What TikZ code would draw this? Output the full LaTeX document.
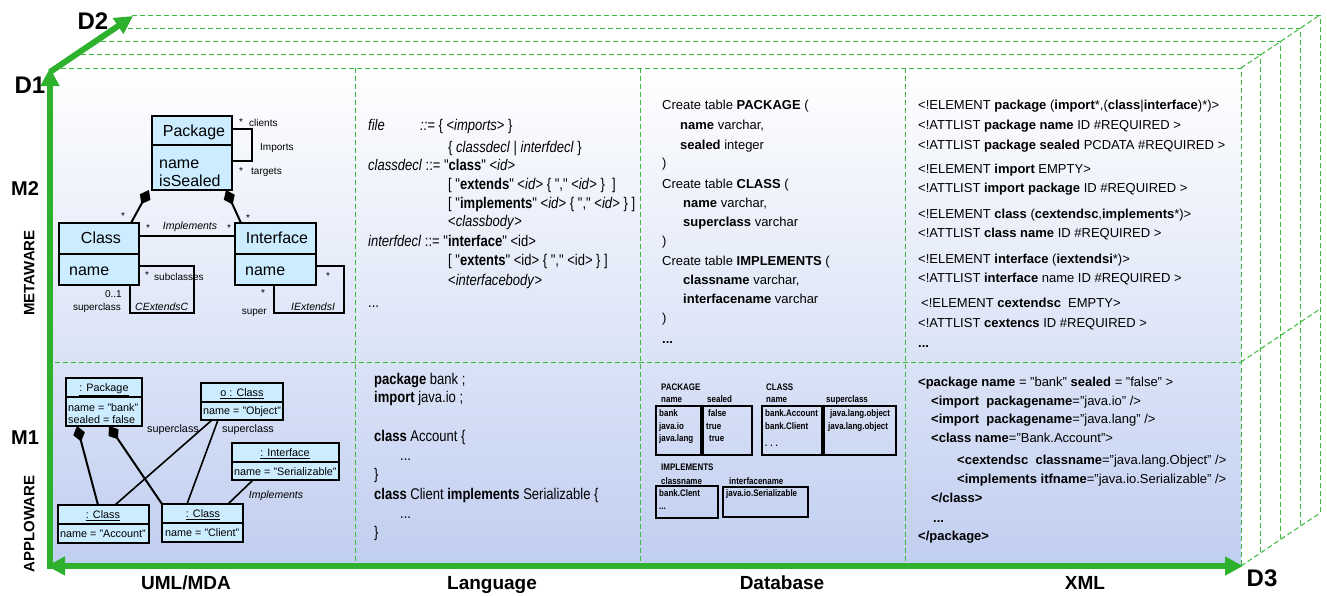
\documentclass[tikz,border=0pt]{standalone}
\usepackage{fontspec}
\setmainfont{Liberation Sans}
\newfontfamily\narrowsans[FakeStretch=0.84]{Liberation Sans}
\usetikzlibrary{arrows.meta}
\definecolor{axisgreen}{RGB}{46,178,46}
\definecolor{dashgreen}{RGB}{58,186,58}
\definecolor{umlblue}{RGB}{204,236,255}
\definecolor{bgblue}{RGB}{192,206,240}
\begin{document}
\begin{tikzpicture}[x=1pt,y=-1pt,
  axis/.style={draw=axisgreen, line width=6pt},
  grid/.style={draw=dashgreen, line width=1pt, dash pattern=on 5pt off 3pt},
  t/.style={anchor=west, inner sep=0pt, text depth=0pt},
  c/.style={anchor=center, inner sep=0pt, text depth=0pt},
  e/.style={anchor=east, inner sep=0pt, text depth=0pt},
  lang/.style={font=\narrowsans\fontsize{15.5}{17}\selectfont, text height=11.1pt},
  code/.style={font=\fontsize{13}{15}\selectfont, text height=9.3pt},
  tiny/.style={font=\narrowsans\bfseries\fontsize{9.5}{11}\selectfont, text height=6.8pt},
  uml/.style={font=\fontsize{16}{18}\selectfont, text height=11.5pt},
  umllab/.style={font=\fontsize{10}{12}\selectfont, text height=7.2pt},
  umlit/.style={font=\itshape\fontsize{10.5}{12}\selectfont, text height=7.5pt},
  obj/.style={font=\fontsize{10.8}{12}\selectfont, text height=7.7pt},
  umlbox/.style={draw=black, fill=umlblue, line width=1.1pt, inner sep=0pt, outer sep=0pt, anchor=north west},
  dbbox/.style={draw=black, line width=1.4pt, inner sep=0pt, outer sep=0pt, anchor=north west},
  assoc/.style={draw=black, line width=1.6pt},
  comp/.style={assoc, line width=2pt, -{Diamond[length=16pt,width=12pt]}},
  dlab/.style={c, font=\bfseries\fontsize{24}{26}\selectfont, text height=17.2pt},
  mlab/.style={c, font=\bfseries\fontsize{20}{22}\selectfont, text height=14.3pt},
  wlab/.style={c, font=\bfseries\fontsize{15}{17}\selectfont, text height=10.7pt, rotate=90},
  axlab/.style={c, font=\bfseries\fontsize{19}{21}\selectfont, text height=13.6pt}
]
\useasboundingbox (0,0) rectangle (1327,595);

% ---------- back layers ----------
\foreach \i in {1,...,4} {
  \draw[grid] ({53+19.75*\i},{68-13.25*\i}) -- ({1241+19.75*\i},{68-13.25*\i}) -- ({1241+19.75*\i},{566-13.25*\i});
}
\draw[grid] (1241,68) -- (1320,15);
\draw[grid] (1241,362) -- (1320,309);
\draw[grid] (1241,566) -- (1320,513);

% ---------- front face ----------
\shade[top color=white, bottom color=bgblue] (53,68) rectangle (1241,566);
\draw[grid] (53,68) -- (1241,68) -- (1241,566);
\draw[grid] (55,362) -- (1241,362);
\foreach \x in {355,640,905} \draw[grid] (\x,68) -- (\x,566);

% ---------- axes ----------
\draw[axis, -{Triangle[length=18pt,width=18pt]}] (50,569) -- (50,68);
\draw[axis, {Triangle[length=18pt,width=18pt]}-{Triangle[length=18pt,width=18pt]}] (47,566) -- (1243,566);
\draw[axis, -{Triangle[length=18pt,width=18pt]}] (50,72) -- (133,16);

\node[dlab] (D1) at (30,85) {D1};
\node[dlab] (D2) at (93,21) {D2};
\node[dlab] (D3) at (1262,578) {D3};
\node[mlab] (M2) at (25,188) {M2};
\node[mlab] (M1) at (25,437) {M1};
\node[wlab] (meta) at (29,273) {METAWARE};
\node[wlab] (applo) at (29,524) {APPLOWARE};
\node[axlab] (xuml) at (186,583) {UML/MDA};
\node[axlab] (xlang) at (492,583) {Language};
\node[axlab] (xdb) at (782,583) {Database};
\node[axlab] (xxml) at (1085,583) {XML};

% ---------- UML M2 ----------
\node[umlbox, minimum width=80, minimum height=74] (pkg) at (152,116) {};
\draw[line width=1.1pt] (pkg.west |- 0,145) -- (pkg.east |- 0,145);
\node[c, uml] (pkgT) at (194,131) {Package};
\node[t, uml] (pkgA1) at (159,163) {name};
\node[t, uml] (pkgA2) at (159,181) {isSealed};

\node[umlbox, minimum width=80, minimum height=62] (cls) at (59,223) {};
\draw[line width=1.1pt] (cls.west |- 0,254) -- (cls.east |- 0,254);
\node[c, uml] (clsT) at (101,238) {Class};
\node[t, uml] (clsA) at (69,270) {name};

\node[umlbox, minimum width=81, minimum height=62] (itf) at (235,223) {};
\draw[line width=1.1pt] (itf.west |- 0,254) -- (itf.east |- 0,254);
\node[c, uml] (itfT) at (277,238) {Interface};
\node[t, uml] (itfA) at (245,270) {name};

\draw[assoc] (pkg.east |- 0,129) -| (252,161) -- (pkg.east |- 0,161);
\node[c, umllab] (s1) at (241,122) {*};
\node[t, umllab] (clients) at (249,123) {clients};
\node[t, umllab] (imports) at (260,147) {Imports};
\node[c, umllab] (s2) at (241,171) {*};
\node[t, umllab] (targets) at (251,171) {targets};

\draw[comp] (cls.north -| 131,0) -- (pkg.south -| 149,0);
\draw[comp] (itf.north -| 241,0) -- (pkg.south -| 226,0);
\node[c, umllab] (s3) at (123,216) {*};
\node[c, umllab] (s4) at (248,218) {*};

\draw[assoc, line width=1.2pt] (cls.east |- 0,236) -- (itf.west |- 0,236);
\node[c, umllab] (s5) at (148,228) {*};
\node[c, umlit] (implT) at (190,226) {Implements};
\node[c, umllab] (s6) at (229,228) {*};

\draw[assoc] (cls.east |- 0,266) -| (194,313) -| (cls.south -| 130,0);
\node[c, umllab] (s7) at (147,275) {*};
\node[t, umllab] (subcl) at (154,277) {subclasses};
\node[e, umllab] (mult) at (122,294) {0..1};
\node[e, umllab] (supcl) at (121,307) {superclass};
\node[t, umlit] (cext) at (135,307) {CExtendsC};

\draw[assoc] (itf.east |- 0,266) -| (344,313) -| (itf.south -| 274,0);
\node[c, umllab] (s8) at (328,276) {*};
\node[c, umllab] (s9) at (263,293) {*};
\node[e, umllab] (super) at (267,311) {super};
\node[t, umlit] (iext) at (291,307) {IExtendsI};

% ---------- UML M1 ----------
\node[umlbox, minimum width=76, minimum height=48] (opkg) at (66,378) {};
\draw[line width=1.1pt] (opkg.west |- 0,397) -- (opkg.east |- 0,397);
\node[c, obj] (opkgT) at (104,388) {\underline{: Package}};
\node[t, obj] (opkgA1) at (68,408) {name = "bank"};
\node[t, obj] (opkgA2) at (68,420) {sealed = false};

\node[umlbox, minimum width=82, minimum height=37] (oobj) at (201,383) {};
\draw[line width=1.1pt] (oobj.west |- 0,402) -- (oobj.east |- 0,402);
\node[c, obj] (oobjT) at (242,393) {\underline{o : Class}};
\node[t, obj] (oobjA) at (203,411) {name = "Object"};

\node[umlbox, minimum width=107, minimum height=37] (oitf) at (232,443) {};
\draw[line width=1.1pt] (oitf.west |- 0,462) -- (oitf.east |- 0,462);
\node[c, obj] (oitfT) at (285,453) {\underline{: Interface}};
\node[t, obj] (oitfA) at (234,472) {name = "Serializable"};

\node[umlbox, minimum width=91, minimum height=38] (oacc) at (58,505) {};
\draw[line width=1.1pt] (oacc.west |- 0,524) -- (oacc.east |- 0,524);
\node[c, obj] (oaccT) at (103,515) {\underline{: Class}};
\node[t, obj] (oaccA) at (60,534) {name = "Account"};

\node[umlbox, minimum width=81, minimum height=38] (ocli) at (162,504) {};
\draw[line width=1.1pt] (ocli.west |- 0,523) -- (ocli.east |- 0,523);
\node[c, obj] (ocliT) at (203,514) {\underline{: Class}};
\node[t, obj] (ocliA) at (165,533) {name = "Client"};

\draw[comp] (oacc.north -| 98,0) -- (opkg.south -| 77,0);
\draw[comp] (ocli.north west) -- (opkg.south -| 109,0);
\draw[assoc] (oacc.north -| 115,0) -- (oobj.south -| 212,0);
\draw[assoc] (ocli.north -| 187,0) -- (oobj.south -| 218,0);
\draw[assoc] (ocli.north -| 228,0) -- (oitf.south -| 253,0);
\node[c, obj] (sup1) at (173,429) {superclass};
\node[c, obj] (sup2) at (248,429) {superclass};
\node[c, umlit] (impl2) at (276,495) {Implements};

% ---------- Language M2 ----------
\node[t, lang] (g1) at (368,125) {\textit{file}};
\node[t, lang] (g1b) at (420,125) {\textit{::=} \{ <\textit{imports}> \}};
\node[t, lang] (g2) at (448,147) {\{ \textit{classdecl} | \textit{interfdecl} \}};
\node[t, lang] (g3) at (368,165) {\textit{classdecl} ::= "\textbf{class}" <\textit{id}>};
\node[t, lang] (g4) at (448,184) {[ "\textbf{extends}" <\textit{id}> \{ "," <\textit{id}> \}\ \ ]};
\node[t, lang] (g5) at (448,203) {[ "\textbf{implements}" <\textit{id}> \{ "," <\textit{id}> \} ]};
\node[t, lang] (g6) at (448,221) {<\textit{classbody}>};
\node[t, lang] (g7) at (368,241) {\textit{interfdecl} ::= "\textbf{interface}" <id>};
\node[t, lang] (g8) at (448,260) {[ "\textbf{extents}" <id> \{ "," <id> \} ]};
\node[t, lang] (g9) at (448,280) {<\textit{interfacebody}>};
\node[t, lang] (g10) at (368,302) {...};

% ---------- Language M1 ----------
\node[t, lang] (j1) at (374,379) {\textbf{package} bank ;};
\node[t, lang] (j2) at (374,397) {\textbf{import} java.io ;};
\node[t, lang] (j3) at (374,436) {\textbf{class} Account \{};
\node[t, lang] (j4) at (400,455) {...};
\node[t, lang] (j5) at (374,474) {\}};
\node[t, lang] (j6) at (374,494) {\textbf{class} Client \textbf{implements} Serializable \{};
\node[t, lang] (j7) at (400,513) {...};
\node[t, lang] (j8) at (374,532) {\}};

% ---------- Database M2 ----------
\node[t, code] (d1) at (662,105) {Create table \textbf{PACKAGE} (};
\node[t, code] (d2) at (680,125) {\textbf{name} varchar,};
\node[t, code] (d3) at (680,145) {\textbf{sealed} integer};
\node[t, code] (d4) at (662,163) {)};
\node[t, code] (d5) at (662,184) {Create table \textbf{CLASS} (};
\node[t, code] (d6) at (683,203) {\textbf{name} varchar,};
\node[t, code] (d7) at (683,222) {\textbf{superclass} varchar};
\node[t, code] (d8) at (662,241) {)};
\node[t, code] (d9) at (662,261) {Create table \textbf{IMPLEMENTS} (};
\node[t, code] (d10) at (683,280) {\textbf{classname} varchar,};
\node[t, code] (d11) at (683,299) {\textbf{interfacename} varchar};
\node[t, code] (d12) at (662,318) {)};
\node[t, code] (d13) at (662,339) {\textbf{...}};

% ---------- Database M1 ----------
\node[t, tiny] (hp) at (661,387) {PACKAGE};
\node[t, tiny] (hc) at (766,387) {CLASS};
\node[t, tiny] (hpn) at (661,399) {name};
\node[t, tiny] (hps) at (707,399) {sealed};
\node[t, tiny] (hcn) at (766,399) {name};
\node[t, tiny] (hcs) at (826,399) {superclass};
\node[dbbox, minimum width=45, minimum height=49] (tb1) at (656,406) {};
\node[dbbox, minimum width=49, minimum height=49] (tb2) at (703,406) {};
\node[dbbox, minimum width=60, minimum height=49] (tb3) at (762,406) {};
\node[dbbox, minimum width=72, minimum height=49] (tb4) at (824,406) {};
\node[t, tiny] (v11) at (659,413) {bank};
\node[t, tiny] (v12) at (659,426) {java.io};
\node[t, tiny] (v13) at (659,438) {java.lang};
\node[t, tiny] (v21) at (708,413) {false};
\node[t, tiny] (v22) at (706,426) {true};
\node[t, tiny] (v23) at (709,438) {true};
\node[t, tiny] (v31) at (765,413) {bank.Account};
\node[t, tiny] (v32) at (765,426) {bank.Client};
\node[t, tiny] (v33) at (765,443) {. . .};
\node[t, tiny] (v41) at (830,413) {java.lang.object};
\node[t, tiny] (v42) at (828,426) {java.lang.object};
\node[t, tiny] (hi) at (661,467) {IMPLEMENTS};
\node[t, tiny] (hin) at (661,481) {classname};
\node[t, tiny] (hii) at (729,481) {interfacename};
\node[dbbox, minimum width=62, minimum height=32] (tb5) at (656,486) {};
\node[dbbox, minimum width=85, minimum height=30] (tb6) at (723,487) {};
\node[t, tiny] (v51) at (659,493) {bank.Clent};
\node[t, tiny] (v52) at (659,506) {...};
\node[t, tiny] (v61) at (726,493) {java.io.Serializable};

% ---------- XML M2 ----------
\node[t, code] (x1) at (918,105) {<!ELEMENT \textbf{package} (\textbf{import}*,(\textbf{class}|\textbf{interface})*)>};
\node[t, code] (x2) at (918,125) {<!ATTLIST \textbf{package name} ID \#REQUIRED >};
\node[t, code] (x3) at (918,145) {<!ATTLIST \textbf{package sealed} PCDATA \#REQUIRED >};
\node[t, code] (x4) at (918,169) {<!ELEMENT \textbf{import} EMPTY>};
\node[t, code] (x5) at (918,188) {<!ATTLIST \textbf{import package} ID \#REQUIRED >};
\node[t, code] (x6) at (918,214) {<!ELEMENT \textbf{class} (\textbf{cextendsc},\textbf{implements}*)>};
\node[t, code] (x7) at (918,233) {<!ATTLIST \textbf{class name} ID \#REQUIRED >};
\node[t, code] (x8) at (918,259) {<!ELEMENT \textbf{interface} (\textbf{iextendsi}*)>};
\node[t, code] (x9) at (918,278) {<!ATTLIST \textbf{interface} name ID \#REQUIRED >};
\node[t, code] (x10) at (921,303) {<!ELEMENT \textbf{cextendsc}\ \ EMPTY>};
\node[t, code] (x11) at (918,323) {<!ATTLIST \textbf{cextencs} ID \#REQUIRED >};
\node[t, code] (x12) at (918,343) {\textbf{...}};

% ---------- XML M1 ----------
\node[t, code] (y1) at (918,382) {\textbf{<package name} = "bank" \textbf{sealed} = "false" >};
\node[t, code] (y2) at (931,401) {\textbf{<import\ \ packagename}="java.io" />};
\node[t, code] (y3) at (931,419) {\textbf{<import\ \ packagename}="java.lang" />};
\node[t, code] (y4) at (931,438) {\textbf{<class name}="Bank.Account">};
\node[t, code] (y5) at (957,460) {\textbf{<cextendsc\ \ classname}="java.lang.Object" />};
\node[t, code] (y6) at (957,479) {\textbf{<implements itfname}="java.io.Serializable" />};
\node[t, code] (y7) at (931,498) {\textbf{</class>}};
\node[t, code] (y8) at (933,518) {\textbf{...}};
\node[t, code] (y9) at (918,536) {\textbf{</package>}};
\end{tikzpicture}
\end{document}
